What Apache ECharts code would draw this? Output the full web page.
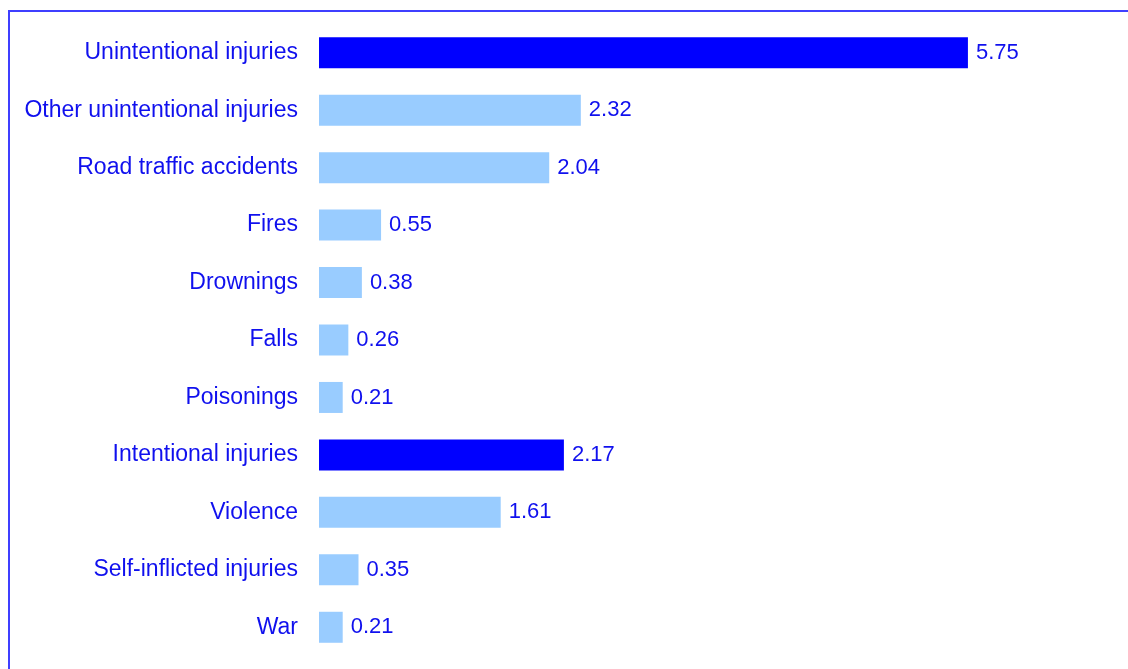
<!DOCTYPE html>
<html>
<head>
<meta charset="utf-8">
<script src="https://cdn.jsdelivr.net/npm/echarts@6/dist/echarts.min.js"></script>
<style>
  html, body { margin: 0; padding: 0; background: #ffffff; }
  #chart { width: 1128px; height: 669px; }
</style>
</head>
<body>
<div id="chart"></div>
<script>
// Injury categories, top to bottom
const categories = [
  'Unintentional injuries',
  'Other unintentional injuries',
  'Road traffic accidents',
  'Fires',
  'Drownings',
  'Falls',
  'Poisonings',
  'Intentional injuries',
  'Violence',
  'Self-inflicted injuries',
  'War'
];
const values = [5.75, 2.32, 2.04, 0.55, 0.38, 0.26, 0.21, 2.17, 1.61, 0.35, 0.21];
// Group totals are drawn in the darker colour
const groupTotals = ['Unintentional injuries', 'Intentional injuries'];

const DARK = '#0000ff';
const LIGHT = '#99ccff';
const TEXT = '#1010ee';

const chart = echarts.init(document.getElementById('chart'), null, { renderer: 'canvas' });

chart.setOption({
  animation: false,
  backgroundColor: '#ffffff',
  graphic: [
    {
      type: 'polyline',
      shape: { points: [[9, 669], [9, 11], [1128, 11]] },
      style: { stroke: '#3f3fff', lineWidth: 2, fill: null },
      silent: true
    }
  ],
  grid: { left: 319, top: 24, width: 790, height: 632, containLabel: false },
  xAxis: {
    type: 'value',
    min: 0,
    max: 7,
    show: false
  },
  yAxis: {
    type: 'category',
    data: categories,
    inverse: true,
    axisLine: { show: false },
    axisTick: { show: false },
    splitLine: { show: false },
    axisLabel: {
      color: TEXT,
      fontFamily: 'Liberation Sans, Arial, sans-serif',
      fontSize: 23,
      margin: 21
    }
  },
  series: [{
    type: 'bar',
    barWidth: 31,
    data: values.map((v, i) => ({
      value: v,
      itemStyle: { color: groupTotals.includes(categories[i]) ? DARK : LIGHT }
    })),
    label: {
      show: true,
      position: 'right',
      distance: 8,
      color: TEXT,
      fontFamily: 'Liberation Sans, Arial, sans-serif',
      fontSize: 22,
      formatter: p => p.value.toFixed(2)
    }
  }]
});
</script>
</body>
</html>
